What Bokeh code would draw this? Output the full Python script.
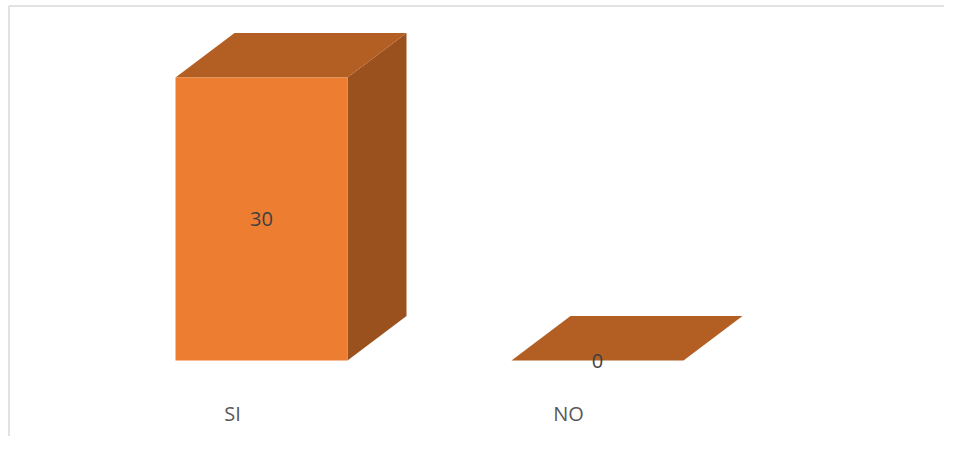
from bokeh.plotting import figure
from bokeh.models import Range1d, ColumnDataSource
from bokeh.core.properties import value
from bokeh.embed import file_html
from bokeh.resources import INLINE

# ---- data ----
categories = ["SI", "NO"]
counts = [30, 0]

# ---- layout / style constants ----
W, H = 944, 436
px_per_cat = 336.0
px_per_unit = 9.433
x_origin_px = 261.0      # pixel position of first category centre
y_origin_px = 76.0       # pixel position (from bottom) of the floor
bar_w = 172.0 / px_per_cat
depth_dx = 59.0 / px_per_cat
depth_dy = 44.5 / px_per_unit

x_start = -x_origin_px / px_per_cat
x_end = x_start + W / px_per_cat
y_start = -y_origin_px / px_per_unit
y_end = y_start + H / px_per_unit

FRONT = "#ED7D31"
TOP = "#B35E22"
SIDE = "#9A511E"

p = figure(width=W, height=H, output_backend="svg", toolbar_location=None,
           x_range=Range1d(x_start, x_end), y_range=Range1d(y_start, y_end),
           min_border=0, min_border_left=0, min_border_right=0,
           min_border_top=0, min_border_bottom=0)
p.axis.visible = False
p.grid.visible = False
p.outline_line_color = None
p.background_fill_color = "white"
p.border_fill_color = "white"

# border (left + top only visible like the reference)
bx = x_start + 8.5 / px_per_cat
by = y_end - 5.5 / px_per_unit
p.line([bx, bx, x_end + 1], [y_start - 1, by, by],
       line_color="#D9D9D9", line_width=1.5)

xs = list(range(len(categories)))
side_x, side_y, top_x, top_y = [], [], [], []
left, right, tops = [], [], []
for i, v in zip(xs, counts):
    x0 = i - bar_w / 2
    x1 = i + bar_w / 2
    left.append(x0); right.append(x1); tops.append(v)
    side_x.append([x1, x1, x1 + depth_dx, x1 + depth_dx])
    side_y.append([0, v, v + depth_dy, depth_dy])
    top_x.append([x0, x1, x1 + depth_dx, x0 + depth_dx])
    top_y.append([v, v, v + depth_dy, v + depth_dy])

p.patches(side_x, side_y, fill_color=SIDE, line_color=None)
p.patches(top_x, top_y, fill_color=TOP, line_color=None)
p.quad(left=left, right=right, bottom=[0] * len(xs), top=tops,
       fill_color=FRONT, line_color=None)

# value labels
src = ColumnDataSource(dict(x=xs, y=[v / 2 for v in counts],
                            t=[str(v) for v in counts]))
p.text(x="x", y="y", text="t", source=src, text_align="center",
       text_baseline="middle", text_color="#404040",
       text_font=value("Open Sans"), text_font_size="20px")

# category labels
lab_dx = -29.0 / px_per_cat
lab_y = (23.0 - y_origin_px) / px_per_unit
csrc = ColumnDataSource(dict(x=[i + lab_dx for i in xs], y=[lab_y] * len(xs),
                             t=categories))
p.text(x="x", y="y", text="t", source=csrc, text_align="center",
       text_baseline="middle", text_color="#595959",
       text_font=value("Open Sans"), text_font_size="20px")

open("out.html", "w").write(file_html(p, INLINE))
